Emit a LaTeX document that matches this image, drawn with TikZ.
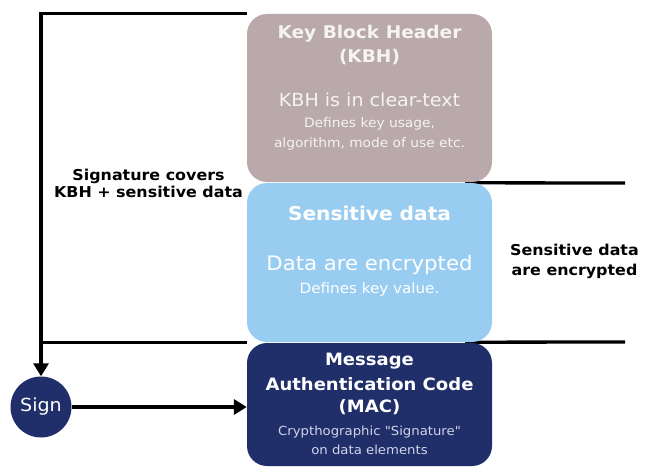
\documentclass[tikz,border=0pt]{standalone}
\usepackage{fontspec}
\setmainfont[FakeStretch=1.06,Ligatures=TeXOff]{DejaVu Sans}
\usetikzlibrary{arrows.meta,backgrounds}
\definecolor{kbhGray}{RGB}{185,169,171}
\definecolor{kbhText}{RGB}{246,243,243}
\definecolor{dataBlue}{RGB}{153,204,241}
\definecolor{macNavy}{RGB}{32,46,106}
\definecolor{macText}{RGB}{208,212,232}
\newcommand{\tsize}[1]{\fontsize{#1}{0}\selectfont}
\newcommand{\lineup}[1]{\rule{0pt}{#1}}
\newcommand{\linedown}[1]{\rule[-#1]{0pt}{#1}}

\begin{document}
\begin{tikzpicture}[x=1pt, y=-1pt,
  block/.style={rounded corners=20pt, minimum width=245pt, inner sep=0pt, align=center, text=white,
    font={\lineskiplimit=-1000pt\baselineskip=0pt}},
  note/.style={align=center, font={\tsize{15}\bfseries\lineskiplimit=-1000pt}},
  link/.style={line width=3.3pt},
  >={Triangle[length=13pt,width=15pt]}]
  \useasboundingbox (0,0) rectangle (648,468);

  \node[block, fill=kbhGray, minimum height=168pt, text=kbhText] (kbh) at (369.5,98)
  {
    {\tsize{17.5}\bfseries\lineup{15pt}Key Block Header}\\[24pt]
    {\tsize{17.5}\bfseries (KBH)}\\[44pt]
    {\tsize{18}KBH is in clear-text}\\[21pt]
    {\tsize{13}Defines key usage,}\\[20pt]
    {\tsize{13}algorithm, mode of use etc.\linedown{24pt}}
  };
  \node[block, fill=dataBlue, minimum height=159pt] (sens) at (369.5,262.5)
  {
    {\tsize{19}\bfseries\lineup{16pt}Sensitive data}\\[50pt]
    {\tsize{20}Data are encrypted}\\[23pt]
    {\tsize{14.3}Defines key value.\linedown{28pt}}
  };
  \node[block, fill=macNavy, minimum height=123pt] (mac) at (369.5,404.5)
  {
    {\tsize{17}\bfseries\lineup{17pt}Message}\\[25pt]
    {\tsize{17}\bfseries Authentication Code}\\[22pt]
    {\tsize{17}\bfseries (MAC)}\\[23pt]
    {\tsize{12.5}\color{macText}Crypthographic "Signature"}\\[19pt]
    {\tsize{12.5}\color{macText}on data elements\linedown{6pt}}
  };
  \node[circle, fill=macNavy, minimum size=61pt, inner sep=0pt, text=white, font=\tsize{18}] (sign) at (41,407) {Sign};

  \node[note] (covers) at (148.5,184.5) {\lineup{12pt}Signature covers\\[17pt]KBH + sensitive data\linedown{4pt}};
  \node[note] (encrypted) at (574.5,261) {\lineup{12pt}Sensitive data\\[20pt]are encrypted\linedown{4pt}};

  \coordinate (dataTop) at (625,183);
  \coordinate (dataEnd) at (625,342);
  \begin{scope}[on background layer]
    \draw[link,->] (kbh.north west) -| (sign.north);
    \draw[link] (sens.south west) -- (sens.south west -| sign);
    \draw[link] ([xshift=-27pt]sens.north east) -- (dataTop);
    \draw[link] ([xshift=-27pt]sens.south east) -- (dataEnd);
  \end{scope}
  \draw[link,->] (sign.east) -- (sign.east -| mac.west);
\end{tikzpicture}
\end{document}
